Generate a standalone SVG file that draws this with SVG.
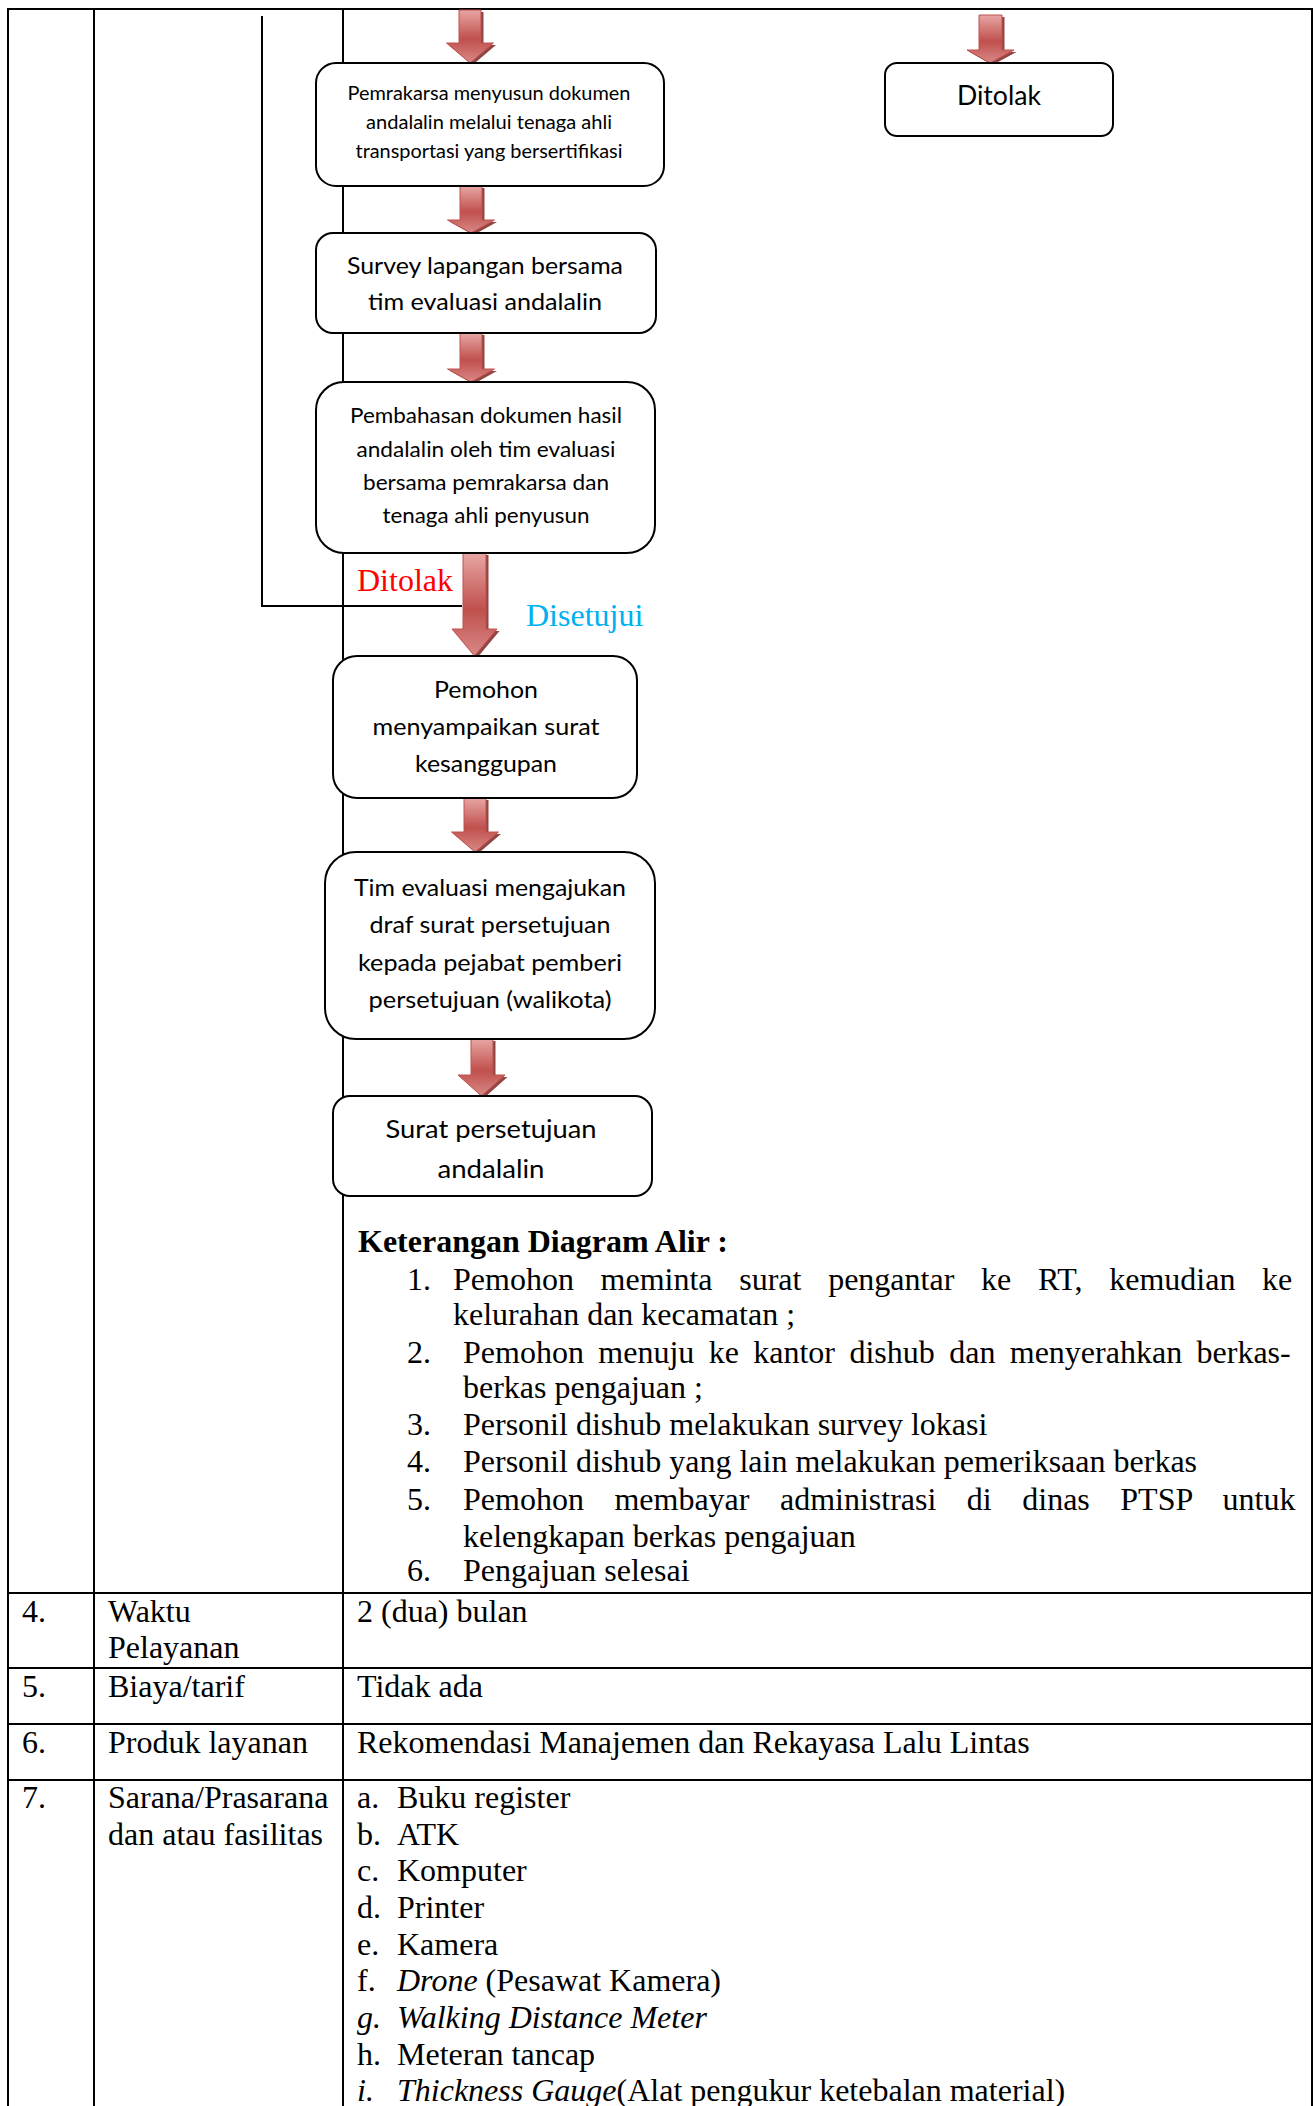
<svg xmlns="http://www.w3.org/2000/svg" width="1315" height="2106" viewBox="0 0 1315 2106">
<style>
.ln{stroke:#000;stroke-width:2;fill:none}
.box{fill:#fff;stroke:#000;stroke-width:2}
.fc{font-family:Lato,"Open Sans","Liberation Sans",sans-serif;text-anchor:middle;fill:#000}
.t{font-family:"Liberation Serif","Times New Roman",serif;font-size:32px;fill:#000}
.b{font-weight:bold}
.i{font-style:italic}
.arr{fill:url(#ag);stroke:#c0504d;stroke-width:1}
.sh{fill:#7d2623;opacity:0.85}
</style>
<defs>
<linearGradient id="ag" x1="0" y1="0" x2="0" y2="1">
<stop offset="0" stop-color="#e7a6a4"/>
<stop offset="0.55" stop-color="#c0504d"/>
<stop offset="1" stop-color="#d98987"/>
</linearGradient>
</defs>
<rect width="1315" height="2106" fill="#fff"/>
<g id="table">
<line class="ln" x1="7" y1="9" x2="1313" y2="9"/>
<line class="ln" x1="8" y1="9" x2="8" y2="2106"/>
<line class="ln" x1="94" y1="9" x2="94" y2="2106"/>
<line class="ln" x1="343" y1="9" x2="343" y2="2106"/>
<line class="ln" x1="1312" y1="9" x2="1312" y2="2106"/>
<line class="ln" x1="7" y1="1593" x2="1313" y2="1593"/>
<line class="ln" x1="7" y1="1668" x2="1313" y2="1668"/>
<line class="ln" x1="7" y1="1724" x2="1313" y2="1724"/>
<line class="ln" x1="7" y1="1780" x2="1313" y2="1780"/>
<text class="t b" x="358" y="1252">Keterangan Diagram Alir :</text>
<text class="t" x="407" y="1290">1.</text>
<text class="t" x="453" y="1290" word-spacing="18.7">Pemohon meminta surat pengantar ke RT, kemudian ke</text>
<text class="t" x="453" y="1325">kelurahan dan kecamatan ;</text>
<text class="t" x="407" y="1363">2.</text>
<text class="t" x="463" y="1363" word-spacing="6.4">Pemohon menuju ke kantor dishub dan menyerahkan berkas-</text>
<text class="t" x="463" y="1398">berkas pengajuan ;</text>
<text class="t" x="407" y="1435">3.</text>
<text class="t" x="463" y="1435">Personil dishub melakukan survey lokasi</text>
<text class="t" x="407" y="1472">4.</text>
<text class="t" x="463" y="1472">Personil dishub yang lain melakukan pemeriksaan berkas</text>
<text class="t" x="407" y="1510">5.</text>
<text class="t" x="463" y="1510" word-spacing="22.5">Pemohon membayar administrasi di dinas PTSP untuk</text>
<text class="t" x="463" y="1547">kelengkapan berkas pengajuan</text>
<text class="t" x="407" y="1581">6.</text>
<text class="t" x="463" y="1581">Pengajuan selesai</text>
<text class="t" x="22" y="1622">4.</text>
<text class="t" x="108" y="1622">Waktu</text>
<text class="t" x="108" y="1658">Pelayanan</text>
<text class="t" x="357" y="1622">2 (dua) bulan</text>
<text class="t" x="22" y="1697">5.</text>
<text class="t" x="108" y="1697">Biaya/tarif</text>
<text class="t" x="357" y="1697">Tidak ada</text>
<text class="t" x="22" y="1753">6.</text>
<text class="t" x="108" y="1753">Produk layanan</text>
<text class="t" x="357" y="1753">Rekomendasi Manajemen dan Rekayasa Lalu Lintas</text>
<text class="t" x="22" y="1808">7.</text>
<text class="t" x="108" y="1808">Sarana/Prasarana</text>
<text class="t" x="108" y="1845">dan atau fasilitas</text>
<text class="t" x="357" y="1808">a.</text><text class="t" x="397" y="1808">Buku register</text>
<text class="t" x="357" y="1845">b.</text><text class="t" x="397" y="1845">ATK</text>
<text class="t" x="357" y="1881">c.</text><text class="t" x="397" y="1881">Komputer</text>
<text class="t" x="357" y="1918">d.</text><text class="t" x="397" y="1918">Printer</text>
<text class="t" x="357" y="1955">e.</text><text class="t" x="397" y="1955">Kamera</text>
<text class="t" x="357" y="1991">f.</text><text class="t" x="397" y="1991"><tspan class="i">Drone</tspan> (Pesawat Kamera)</text>
<text class="t i" x="357" y="2028">g.</text><text class="t i" x="397" y="2028">Walking Distance Meter</text>
<text class="t" x="357" y="2065">h.</text><text class="t" x="397" y="2065">Meteran tancap</text>
<text class="t i" x="357" y="2101">i.</text><text class="t" x="397" y="2101"><tspan class="i">Thickness Gauge</tspan>(Alat pengukur ketebalan material)</text>
</g>
<g id="connectors">
<polyline class="ln" points="262,16 262,606 462,606"/>
<g id="arrow-1"><path class="sh" transform="translate(2.5,2)" d="M459,10H481V43H493.5L470,63L446.5,43H459Z"/><path class="arr" d="M459,10H481V43H493.5L470,63L446.5,43H459Z"/></g>
<g id="arrow-2"><path class="sh" transform="translate(2.5,2)" d="M979,15H1002V50H1014L990,63L967,50H979Z"/><path class="arr" d="M979,15H1002V50H1014L990,63L967,50H979Z"/></g>
<g id="arrow-3"><path class="sh" transform="translate(2.5,2)" d="M460,186H482V220H494.5L471,233L447.5,220H460Z"/><path class="arr" d="M460,186H482V220H494.5L471,233L447.5,220H460Z"/></g>
<g id="arrow-4"><path class="sh" transform="translate(2.5,2)" d="M460,333H482V369H494.5L471,382L447.5,369H460Z"/><path class="arr" d="M460,333H482V369H494.5L471,382L447.5,369H460Z"/></g>
<g id="arrow-5"><path class="sh" transform="translate(2.5,2)" d="M463,553H486V629H497L474.5,656L452,629H463Z"/><path class="arr" d="M463,553H486V629H497L474.5,656L452,629H463Z"/></g>
<g id="arrow-6"><path class="sh" transform="translate(2.5,2)" d="M464,798H486V832H498.5L475,852L451.5,832H464Z"/><path class="arr" d="M464,798H486V832H498.5L475,852L451.5,832H464Z"/></g>
<g id="arrow-7"><path class="sh" transform="translate(2.5,2)" d="M471,1039H493V1075H505L481.5,1096L458,1075H471Z"/><path class="arr" d="M471,1039H493V1075H505L481.5,1096L458,1075H471Z"/></g>
<text x="357" y="591" font-family="Liberation Serif, Times New Roman, serif" font-size="32" fill="#ff0000">Ditolak</text>
<text x="526" y="626" font-family="Liberation Serif, Times New Roman, serif" font-size="32" fill="#00b0f0">Disetujui</text>
</g>
<g id="node-b1">
<rect class="box" x="316" y="63" width="348" height="123" rx="20"/>
<text class="fc" font-size="19.5" x="489" y="100" textLength="283" lengthAdjust="spacingAndGlyphs">Pemrakarsa menyusun dokumen</text>
<text class="fc" font-size="19.5" x="489" y="129" textLength="246" lengthAdjust="spacingAndGlyphs">andalalin melalui tenaga ahli</text>
<text class="fc" font-size="19.5" x="489" y="158" textLength="267" lengthAdjust="spacingAndGlyphs">transportasi yang bersertifikasi</text>
</g>
<g id="node-ditolak">
<rect class="box" x="885" y="63" width="228" height="73" rx="12"/>
<text class="fc" font-size="26" x="999" y="105" textLength="84" lengthAdjust="spacingAndGlyphs">Ditolak</text>
</g>
<g id="node-b2">
<rect class="box" x="316" y="233" width="340" height="100" rx="17"/>
<text class="fc" font-size="23" x="485" y="274" textLength="276" lengthAdjust="spacingAndGlyphs">Survey lapangan bersama</text>
<text class="fc" font-size="23" x="485" y="310" textLength="234" lengthAdjust="spacingAndGlyphs">tim evaluasi andalalin</text>
</g>
<g id="node-b3">
<rect class="box" x="316" y="382" width="339" height="171" rx="28"/>
<text class="fc" font-size="21.5" x="486" y="423" textLength="272" lengthAdjust="spacingAndGlyphs">Pembahasan dokumen hasil</text>
<text class="fc" font-size="21.5" x="486" y="457" textLength="259" lengthAdjust="spacingAndGlyphs">andalalin oleh tim evaluasi</text>
<text class="fc" font-size="21.5" x="486" y="490" textLength="246" lengthAdjust="spacingAndGlyphs">bersama pemrakarsa dan</text>
<text class="fc" font-size="21.5" x="486" y="523" textLength="207" lengthAdjust="spacingAndGlyphs">tenaga ahli penyusun</text>
</g>
<g id="node-b4">
<rect class="box" x="333" y="656" width="304" height="142" rx="24"/>
<text class="fc" font-size="24" x="486" y="698" textLength="104" lengthAdjust="spacingAndGlyphs">Pemohon</text>
<text class="fc" font-size="24" x="486" y="735" textLength="227" lengthAdjust="spacingAndGlyphs">menyampaikan surat</text>
<text class="fc" font-size="24" x="486" y="772" textLength="142" lengthAdjust="spacingAndGlyphs">kesanggupan</text>
</g>
<g id="node-b5">
<rect class="box" x="325" y="852" width="330" height="187" rx="31"/>
<text class="fc" font-size="23" x="490" y="896" textLength="272" lengthAdjust="spacingAndGlyphs">Tim evaluasi mengajukan</text>
<text class="fc" font-size="23" x="490" y="933" textLength="241" lengthAdjust="spacingAndGlyphs">draf surat persetujuan</text>
<text class="fc" font-size="23" x="490" y="971" textLength="264" lengthAdjust="spacingAndGlyphs">kepada pejabat pemberi</text>
<text class="fc" font-size="23" x="490" y="1008" textLength="243" lengthAdjust="spacingAndGlyphs">persetujuan (walikota)</text>
</g>
<g id="node-b6">
<rect class="box" x="333" y="1096" width="319" height="100" rx="17"/>
<text class="fc" font-size="25" x="491" y="1138" textLength="211" lengthAdjust="spacingAndGlyphs">Surat persetujuan</text>
<text class="fc" font-size="25" x="491" y="1178" textLength="107" lengthAdjust="spacingAndGlyphs">andalalin</text>
</g>
</svg>
